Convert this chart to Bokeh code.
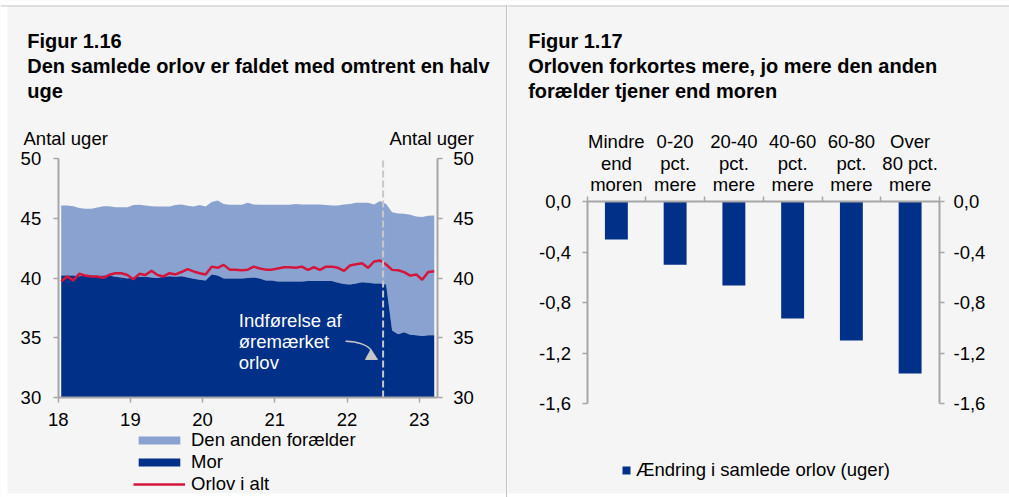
from bokeh.plotting import figure
from bokeh.models import (ColumnDataSource, Range1d, LinearAxis, FixedTicker, Label, Span,
                          BoxAnnotation, Legend, LegendItem, CustomJSTickFormatter, Div)
from bokeh.layouts import row
from bokeh.embed import file_html
from bokeh.resources import INLINE

# ---------------- data: Figur 1.16 (monthly, Jan 2018 - Mar 2023) ----------------
mor = [40.2, 40.2, 40.2, 40.15, 40.2, 40.2, 40.15, 40.2, 40.2, 40.1, 40.05, 39.95,
       40.05, 40.1, 40.1, 40.05, 40.0, 40.1, 40.15, 40.1, 40.15, 40.05, 39.93, 39.85,
       39.8, 40.3, 40.2, 39.95, 39.95, 39.95, 39.95, 40.0, 40.05, 39.95, 39.8, 39.8,
       39.7, 39.7, 39.7, 39.7, 39.7, 39.75, 39.75, 39.75, 39.75, 39.75, 39.6, 39.5,
       39.45, 39.55, 39.65, 39.6, 39.55, 39.55, 39.45, 35.6, 35.3, 35.45, 35.25, 35.2,
       35.15, 35.2, 35.2]
anden = [5.87, 5.87, 5.8, 5.7, 5.59, 5.59, 5.75, 5.8, 5.8, 5.83, 5.88, 5.98,
         6.05, 6.02, 5.97, 5.95, 5.98, 5.88, 5.83, 6.0, 6.0, 6.0, 6.05, 6.25,
         6.18, 6.05, 6.29, 6.25, 6.17, 6.17, 6.17, 6.3, 6.1, 6.17, 6.32, 6.32,
         6.42, 6.42, 6.42, 6.5, 6.45, 6.4, 6.4, 6.4, 6.35, 6.32, 6.47, 6.65,
         6.75, 6.75, 6.65, 6.7, 6.6, 6.9, 6.75, 9.9, 10.1, 9.92, 10.05, 9.95,
         9.95, 10.0, 10.03]
orlov_i_alt = [39.73, 40.13, 39.8, 40.35, 40.2, 40.13, 40.13, 40.02, 40.27, 40.4, 40.4, 40.25,
               39.9, 40.35, 40.25, 40.6, 40.25, 40.13, 40.4, 40.3, 40.5, 40.75, 40.55, 40.4,
               40.3, 40.95, 40.85, 41.1, 40.7, 40.7, 40.65, 40.7, 40.95, 40.8, 40.7, 40.7,
               40.8, 40.9, 40.9, 40.85, 40.95, 40.68, 40.9, 40.68, 40.95, 40.95, 40.85, 40.6,
               41.05, 41.15, 41.24, 40.85, 41.38, 41.46, 41.13, 40.68, 40.65, 40.49, 40.2, 40.3,
               39.85, 40.5, 40.57]
x_ticks_left = [18, 19, 20, 21, 22, 23]
y_ticks_left = [30, 35, 40, 45, 50]
x_bounds_left = (18, 23.25)
reform_x = 22.5

# ---------------- data: Figur 1.17 ----------------
categories = ["Mindre\nend\nmoren", "0-20\npct.\nmere", "20-40\npct.\nmere",
              "40-60\npct.\nmere", "60-80\npct.\nmere", "Over\n80 pct.\nmere"]
aendring = [-0.30, -0.50, -0.665, -0.925, -1.10, -1.36]
y_ticks_right = [-1.6, -1.2, -0.8, -0.4, 0.0]

# ---------------- styles ----------------
FONT = "Liberation Sans"
FS = "18.5px"
BG = "#f5f5f5"
NAVY = "#003087"
LIGHT = "#8aa2cf"
RED = "#d4163c"
AX = "#a6a6a6"
TXT = "#000000"
H = 497


def style_axis(ax, standoff=11):
    ax.axis_line_color = AX
    ax.axis_line_width = 2
    ax.major_tick_line_color = AX
    ax.major_tick_line_width = 1.5
    ax.major_tick_out = 5
    ax.major_tick_in = 0
    ax.minor_tick_line_color = None
    ax.major_label_text_font = FONT
    ax.major_label_text_font_size = FS
    ax.major_label_text_color = TXT
    ax.major_label_standoff = standoff


def add_label(p, x, y, text, bold=False, align="left", xu="screen", color=TXT, size=FS):
    p.add_layout(Label(x=x, y=y, x_units=xu, y_units="screen", text=text,
                       text_font=FONT, text_font_size=size, text_color=color,
                       text_font_style="bold" if bold else "normal",
                       text_align=align, text_baseline="alphabetic"))


def page_frame(p, left_white):
    # white page strips and the thin grey rule at the top of the panels
    p.add_layout(BoxAnnotation(bottom=H - 5, bottom_units="screen", fill_color="white",
                               fill_alpha=1, line_color=None, level="underlay"))
    p.add_layout(BoxAnnotation(top=4, top_units="screen", fill_color="white",
                               fill_alpha=1, line_color=None, level="underlay"))
    if left_white:
        p.add_layout(BoxAnnotation(right=7, right_units="screen", fill_color="white",
                                   fill_alpha=1, line_color=None, level="underlay"))
    p.add_layout(Span(location=H - 5.5, location_units="screen", dimension="width",
                      line_color="#c4c4c4", line_width=1))


# ================= Left figure (frame = whole canvas, axes at fixed locations) ==========
W1 = 506
PXX, PXY = 72.2, 11.95          # pixels per year / per week
X0, Y0 = 57.7, 158.0            # page position of (18, 50)
n = len(mor)
xs = [18 + (i + 0.5) / 12 for i in range(n)]
top = [m + a for m, a in zip(mor, anden)]
src = ColumnDataSource(dict(x=xs, mor=mor, top=top, total=orlov_i_alt))

p1 = figure(width=W1, height=H,
            x_range=Range1d(18 - X0 / PXX, 18 + (W1 - X0) / PXX),
            y_range=Range1d(50 - (H - Y0) / PXY, 50 + Y0 / PXY),
            output_backend="svg", toolbar_location=None, min_border=0,
            background_fill_color=BG, border_fill_color=BG, outline_line_color=None,
            x_axis_type=None, y_axis_type=None)
p1.grid.visible = False
page_frame(p1, True)

r_anden = p1.varea(x="x", y1="mor", y2="top", source=src, fill_color=LIGHT)
r_mor = p1.varea(x="x", y1=y_ticks_left[0], y2="mor", source=src, fill_color=NAVY)
r_tot = p1.line(x="x", y="total", source=src, line_color=RED, line_width=2.5)

xa = LinearAxis(ticker=FixedTicker(ticks=x_ticks_left), fixed_location=y_ticks_left[0],
                bounds=x_bounds_left)
style_axis(xa, standoff=10)
p1.add_layout(xa, "below")
ya = LinearAxis(ticker=FixedTicker(ticks=y_ticks_left), fixed_location=x_bounds_left[0],
                bounds=(y_ticks_left[0], y_ticks_left[-1]))
style_axis(ya, standoff=12)
p1.add_layout(ya, "left")
ya2 = LinearAxis(ticker=FixedTicker(ticks=y_ticks_left), fixed_location=x_bounds_left[1],
                 bounds=(y_ticks_left[0], y_ticks_left[-1]))
style_axis(ya2, standoff=11)
p1.add_layout(ya2, "right")

p1.segment(x0=[reform_x], y0=[y_ticks_left[0]], x1=[reform_x], y1=[y_ticks_left[-1]],
           line_color="#c8c8c8", line_width=2, line_dash="7 3")

# annotation text and curved arrow
for txt, yy in [("Indførelse af", H - 320), ("øremærket", H - 340.7), ("orlov", H - 361.7)]:
    add_label(p1, 238.3, yy, txt, color="#ffffff")
p1.bezier(x0=[21.98], y0=[34.71], x1=[22.333], y1=[33.93],
          cx0=[22.16], cy0=[34.69], cx1=[22.30], cy1=[34.35],
          line_color="#c8c8c8", line_width=1.5)
p1.patch(x=[22.256, 22.422, 22.332], y=[33.18, 33.18, 34.02], fill_color="#c8c8c8",
         line_color="#c8c8c8")

add_label(p1, 26.7, H - 40, "Figur 1.16", bold=True, size="20px")
add_label(p1, 26.7, H - 65, "Den samlede orlov er faldet med omtrent en halv", bold=True, size="20px")
add_label(p1, 26.7, H - 90, "uge", bold=True, size="20px")
add_label(p1, 23, H - 138, "Antal uger")
add_label(p1, 473.3, H - 138, "Antal uger", align="right")

leg1 = Legend(items=[LegendItem(label="Den anden forælder", renderers=[r_anden]),
                     LegendItem(label="Mor", renderers=[r_mor]),
                     LegendItem(label="Orlov i alt", renderers=[r_tot])],
              location=(133, 2.5), glyph_width=52, glyph_height=10, label_standoff=6,
              label_text_font=FONT, label_text_font_size=FS, label_text_color=TXT,
              label_height=21, spacing=0, padding=0, margin=0,
              background_fill_alpha=0, border_line_alpha=0)
p1.add_layout(leg1)

# ================= Right figure ==========
W2 = 502
PXC, PXV = 58.75, 126.44        # pixels per category / per week
CX0, CY0 = 586.5 - 507, 201.0   # figure position of (0, 0)
bx = [i + 0.5 for i in range(len(categories))]
bsrc = ColumnDataSource(dict(x=bx, v=aendring))
p2 = figure(width=W2, height=H,
            x_range=Range1d(-CX0 / PXC, (W2 - CX0) / PXC),
            y_range=Range1d(-(H - CY0) / PXV, CY0 / PXV),
            output_backend="svg", toolbar_location=None, min_border=0,
            background_fill_color=BG, border_fill_color=BG, outline_line_color=None,
            x_axis_type=None, y_axis_type=None)
p2.grid.visible = False
page_frame(p2, False)

bars = p2.vbar(x="x", width=0.39, top=0, bottom="v", source=bsrc, fill_color=NAVY, line_color=None)

fmt = CustomJSTickFormatter(code="return tick.toFixed(1).replace('.', ',');")
ncat = len(categories)
ta = LinearAxis(ticker=FixedTicker(ticks=list(range(ncat + 1))), fixed_location=0,
                bounds=(0, ncat), formatter=CustomJSTickFormatter(code="return '';"))
style_axis(ta)
p2.add_layout(ta, "above")
yb = LinearAxis(ticker=FixedTicker(ticks=y_ticks_right), formatter=fmt, fixed_location=0,
                bounds=(y_ticks_right[0], y_ticks_right[-1]))
style_axis(yb, standoff=11)
p2.add_layout(yb, "left")
yb2 = LinearAxis(ticker=FixedTicker(ticks=y_ticks_right), formatter=fmt, fixed_location=ncat,
                 bounds=(y_ticks_right[0], y_ticks_right[-1]))
style_axis(yb2, standoff=9)
p2.add_layout(yb2, "right")

for i, c in enumerate(categories):
    for j, line in enumerate(c.split("\n")):
        add_label(p2, bx[i], H - [141, 162.5, 184][j], line, align="center", xu="data")

add_label(p2, 20.7, H - 40, "Figur 1.17", bold=True, size="20px")
add_label(p2, 20.7, H - 65, "Orloven forkortes mere, jo mere den anden", bold=True, size="20px")
add_label(p2, 20.7, H - 90, "forælder tjener end moren", bold=True, size="20px")

leg2 = Legend(items=[LegendItem(label="Ændring i samlede orlov (uger)", renderers=[bars])],
              location=(114, 16.5), glyph_width=10, glyph_height=10, label_standoff=5,
              label_text_font=FONT, label_text_font_size=FS, label_text_color=TXT,
              label_height=21, spacing=0, padding=0, margin=0,
              background_fill_alpha=0, border_line_alpha=0)
p2.add_layout(leg2)

divider = Div(width=1, height=H, margin=(0, 0, 0, 0),
              styles={"background-color": "#c4c4c4", "margin-top": "5px"})
layout = row(p1, divider, p2, spacing=0)

open("out.html", "w").write(file_html(layout, INLINE))
